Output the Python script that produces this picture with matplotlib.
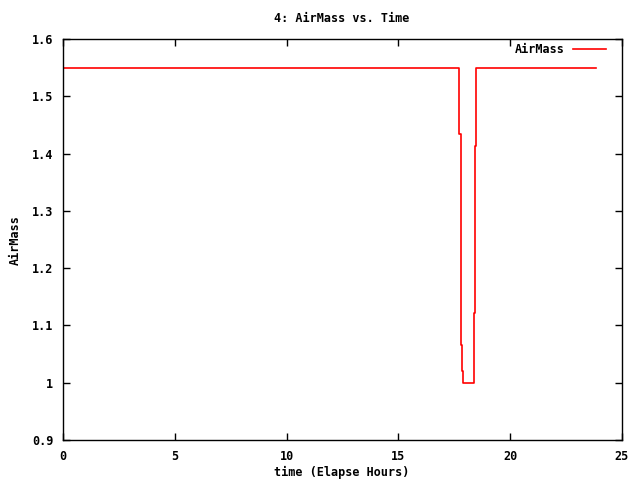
import matplotlib
matplotlib.use("Agg")
import matplotlib.pyplot as plt

# airmass step data
times = [0.0, 17.72, 17.78, 17.81, 17.86, 17.90, 18.40, 18.43, 18.47, 23.82]
airmass = [1.55, 1.435, 1.203, 1.066, 1.021, 1.0, 1.121, 1.413, 1.55, 1.55]

xticks = [0, 5, 10, 15, 20, 25]
yticks = [0.9, 1.0, 1.1, 1.2, 1.3, 1.4, 1.5, 1.6]
ylabels = ["0.9", "1", "1.1", "1.2", "1.3", "1.4", "1.5", "1.6"]

plt.rcParams['font.family'] = ['DejaVu Sans Mono']
plt.rcParams['font.weight'] = 'bold'
plt.rcParams['font.size'] = 8.5

fig = plt.figure(figsize=(6.4, 4.8), dpi=100)
ax = fig.add_axes([0.0984, 0.0833, 0.8734, 0.8354])

ax.plot(times, airmass, drawstyle='steps-post', color='red', lw=1.2, label='AirMass')

ax.set_xlim(0, 25)
ax.set_ylim(0.9, 1.6)
ax.set_xticks(xticks)
ax.set_yticks(yticks)
ax.set_yticklabels(ylabels)
ax.tick_params(direction='in', top=True, right=True, length=5, width=1, pad=7)
for sp in ax.spines.values():
    sp.set_linewidth(1)

# titles placed in figure pixels to match the reference
fig.text(342 / 640, 1 - 18 / 480, "4: AirMass vs. Time", ha='center', va='center')
fig.text(342 / 640, 1 - 472 / 480, "time (Elapse Hours)", ha='center', va='center')
fig.text(15 / 640, 1 - 240 / 480, "AirMass", ha='center', va='center', rotation=90)

ax.legend(loc='upper right', frameon=False, handlelength=2.8, markerfirst=False,
          bbox_to_anchor=(0.9714, 0.99), borderaxespad=0, borderpad=0,
          handletextpad=0.7)

fig.savefig("out.png", dpi=100)
